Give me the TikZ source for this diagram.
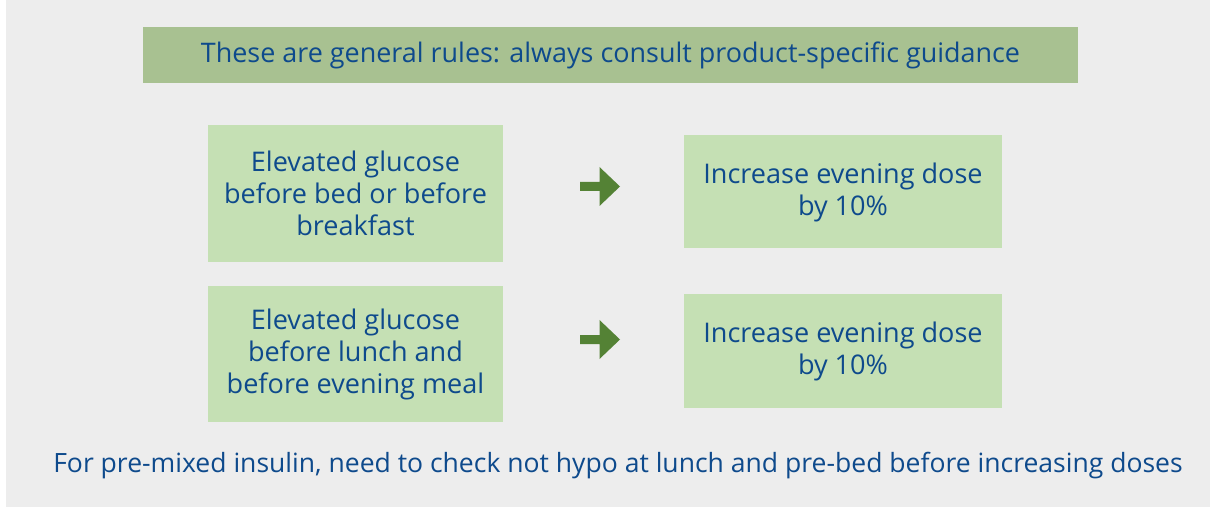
\documentclass[tikz,border=0pt]{standalone}
\usepackage{fontspec}
\setmainfont{Open Sans}
\usetikzlibrary{positioning}
\definecolor{bggray}{HTML}{EDEDED}
\definecolor{bannergreen}{HTML}{A8C191}
\definecolor{boxgreen}{HTML}{C5E0B4}
\definecolor{arrowgreen}{HTML}{548235}
\definecolor{textblue}{HTML}{0E4A8C}
\tikzset{
  banner/.style={fill=bannergreen, text=textblue, inner sep=0pt,
    minimum width=701.25pt, minimum height=42pt,
    font=\fontsize{20.2}{24}\selectfont},
  rulebox/.style={fill=boxgreen, text=textblue, align=center, inner sep=0pt,
    font=\fontsize{20.3}{24}\selectfont},
  notetext/.style={text=textblue, inner sep=0pt,
    font=\fontsize{19.9}{24}\selectfont}
}

\begin{document}
\begin{tikzpicture}[x=0.75pt,y=-0.75pt]
  % Configurable parameters
  \def\shaft{4.5}
  \def\head{19.5}
  \def\shaftlen{19.5}
  \def\headlen{20.5}
  %
  % Page and background
  \useasboundingbox (0,0) rectangle (1210,513);
  \fill[bggray] (6,0) rectangle (1210,507);
  %
  % Banner
  \node[banner] (rules) at (610.5,55)
    {These are general rules: always consult product-specific guidance};
  %
  % Condition boxes
  \node[rulebox, minimum width=221.25pt, minimum height=102.75pt] (bedtime)
    at (355.5,193.5) {Elevated glucose\\before bed or before\\breakfast};
  \node[rulebox, minimum width=221.25pt, minimum height=102pt] (daytime)
    at (355.5,354) {Elevated glucose\\before lunch and\\before evening meal};
  %
  % Action boxes
  \node[rulebox, minimum width=238.5pt, minimum height=84.75pt] (doseA)
    at (843,192) {Increase evening dose\\by 10\%};
  \node[rulebox, minimum width=238.5pt, minimum height=84.75pt] (doseB)
    at (843,351) {Increase evening dose\\by 10\%};
  %
  % Block arrows
  \coordinate (arrA) at (580,186.5);
  \coordinate (arrB) at (580,339.5);
  \foreach \a in {arrA,arrB}
    \fill[arrowgreen] (\a) ++(0,-\shaft) -- ++(\shaftlen,0)
      -- ++(0,\shaft-\head) -- ++(\headlen,\head) -- ++(-\headlen,\head)
      -- ++(0,\shaft-\head) -- ++(-\shaftlen,0) -- cycle;
  %
  % Footnote
  \node[notetext] (premixed) at (618,466)
    {For pre-mixed insulin, need to check not hypo at lunch and pre-bed before increasing doses};
  %
\end{tikzpicture}
\end{document}
